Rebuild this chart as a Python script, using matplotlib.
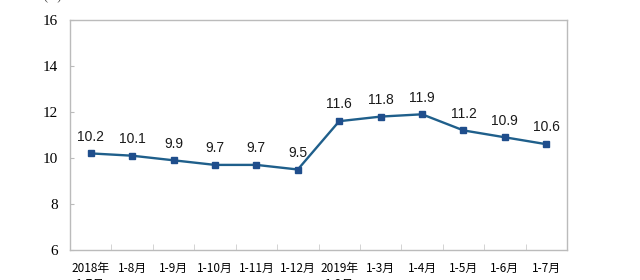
import matplotlib
matplotlib.use("Agg")
import matplotlib.pyplot as plt
import numpy as np

categories = ["2018年\n1-7月", "1-8月", "1-9月", "1-10月", "1-11月", "1-12月",
              "2019年\n1-2月", "1-3月", "1-4月", "1-5月", "1-6月", "1-7月"]
values = [10.2, 10.1, 9.9, 9.7, 9.7, 9.5, 11.6, 11.8, 11.9, 11.2, 10.9, 10.6]
yticks = [6, 8, 10, 12, 14, 16]

fig = plt.figure(figsize=(6.4, 2.8), dpi=100)
ax = fig.add_axes([70/640, 30/280, 497/640, 230/280])

x = np.arange(len(values))
ax.plot(x, values, color="#1F5F8B", lw=1.7, marker="s", markersize=4.5,
        markerfacecolor="#1F4E8C", markeredgecolor="#1F4E8C", zorder=3)
for xi, v in zip(x, values):
    ax.annotate(f"{v:.1f}", (xi, v), xytext=(0, 7), textcoords="offset points",
                ha="center", va="bottom", fontsize=10, family="Liberation Sans",
                color="#1a1a1a")

ax.set_xlim(-0.5, len(values) - 0.5)
ax.set_ylim(6, 16)
ax.set_yticks(yticks)
ax.set_yticklabels([str(t) for t in yticks], family="Liberation Serif", fontsize=11)
ax.tick_params(axis="y", direction="in", length=3, color="#BBBBBB", pad=8.5)

ax.set_xticks(x)
ax.set_xticklabels(categories, family=["Noto Sans CJK SC", "DejaVu Sans"], fontsize=8.5,
                   linespacing=1.3)
ax.tick_params(axis="x", which="major", length=0, pad=8.5)
ax.set_xticks(np.arange(0.5, len(values) - 0.5, 1), minor=True)
ax.tick_params(axis="x", which="minor", direction="in", length=4, color="#CCCCCC")

for s in ax.spines.values():
    s.set_color("#BBBBBB")
    s.set_linewidth(1.0)

fig.text(53/640, 1 + 3/280, "(%)", ha="center", va="center", fontsize=9,
         family="Liberation Serif", color="#333333")

fig.savefig("out.png", dpi=100)
